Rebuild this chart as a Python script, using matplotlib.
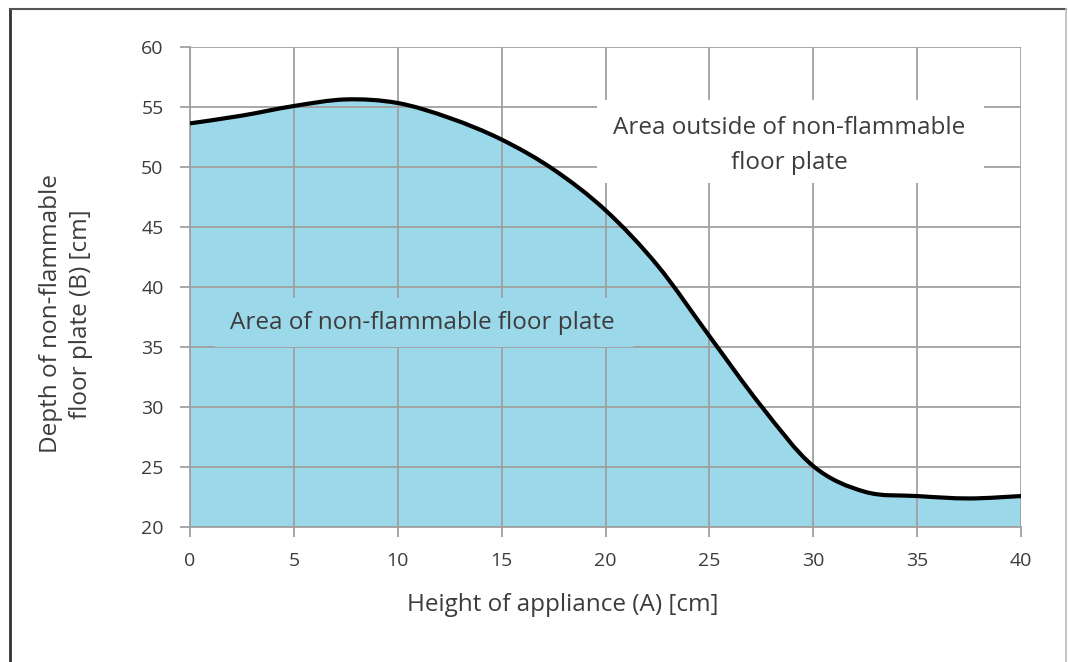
import matplotlib
matplotlib.use("Agg")
import matplotlib.pyplot as plt
from matplotlib.path import Path
from matplotlib.patches import PathPatch, Rectangle
from matplotlib.lines import Line2D
import numpy as np

# Data
height_cm = [0, 2.5, 5, 7.5, 10, 12.5, 15, 17.5, 20, 22.5, 25, 27.5, 30, 32.5, 35, 37.5, 40]
depth_cm = [53.65, 54.3, 55.1, 55.65, 55.35, 54.1, 52.3, 49.8, 46.4, 41.8, 35.9, 30.05, 25.05, 22.9, 22.55, 22.35, 22.55]
x_ticks = [0, 5, 10, 15, 20, 25, 30, 35, 40]
y_ticks = [20, 25, 30, 35, 40, 45, 50, 55, 60]
x_label = "Height of appliance (A) [cm]"
y_label = "Depth of non-flammable\nfloor plate (B) [cm]"
label_inside = "Area of non-flammable floor plate"
label_outside = "Area outside of non-flammable\nfloor plate"

FILL = "#9BD8E9"
GRID = "#A0A0A0"
TXT = "#3C3C3C"
FONT = ["Open Sans", "DejaVu Sans"]
plt.rcParams["font.family"] = FONT


def smooth_vertices(xs, ys):
    """Excel-style smoothed line: cubic Bezier segments through the data points."""
    P = np.column_stack([xs, ys]).astype(float)
    n = len(P)
    verts = [tuple(P[0])]
    codes = [Path.MOVETO]
    for i in range(n - 1):
        p0 = P[i - 1] if i > 0 else P[i]
        p1 = P[i]
        p2 = P[i + 1]
        p3 = P[i + 2] if i + 2 < n else P[i + 1]
        c1 = p1 + (p2 - p0) / 6.0
        c2 = p2 - (p3 - p1) / 6.0
        verts += [tuple(c1), tuple(c2), tuple(p2)]
        codes += [Path.CURVE4] * 3
    return verts, codes


W, H = 1068, 662
fig = plt.figure(figsize=(W / 100, H / 100), dpi=100)
ax = fig.add_axes([190 / W, 1 - 526.6 / H, (1021 - 190) / W, (526.6 - 47.3) / H])

ax.set_xlim(0, 40)
ax.set_ylim(20, 60)

verts, codes = smooth_vertices(height_cm, depth_cm)
# filled area under the curve
fverts = verts + [(height_cm[-1], 20), (height_cm[0], 20), verts[0]]
fcodes = codes + [Path.LINETO, Path.LINETO, Path.CLOSEPOLY]
ax.add_patch(PathPatch(Path(fverts, fcodes), facecolor=FILL, edgecolor="none", zorder=1))

ax.set_xticks(x_ticks)
ax.set_yticks(y_ticks)
ax.grid(True, color=GRID, linewidth=1.3, zorder=2)
ax.set_axisbelow(False)
for s in ax.spines.values():
    s.set_visible(False)
ax.spines["bottom"].set_visible(True)
ax.spines["left"].set_visible(True)
ax.spines["bottom"].set_color(GRID)
ax.spines["left"].set_color(GRID)
ax.spines["bottom"].set_linewidth(1.3)
ax.spines["left"].set_linewidth(1.3)
ax.tick_params(axis="both", direction="out", length=7, width=1.3, color=GRID,
               labelsize=14, labelcolor=TXT)
ax.tick_params(axis="x", pad=11)
ax.tick_params(axis="y", pad=12)

# curve on top
ax.add_patch(PathPatch(Path(verts, codes), facecolor="none", edgecolor="black",
                       linewidth=3.0, zorder=5, capstyle="butt"))

# text boxes that mask the grid
ax.add_patch(Rectangle((19.6, 48.7), 38.2 - 19.6, 55.6 - 48.7, facecolor="white",
                       edgecolor="none", zorder=3))
ax.text(28.83, 51.78, label_outside, ha="center", va="center", fontsize=17.5,
        color=TXT, linespacing=1.62, zorder=4)
ax.add_patch(Rectangle((1.2, 34.95), 21.3 - 1.2, 39.1 - 34.95, facecolor=FILL,
                       edgecolor="none", zorder=3))
ax.text(11.19, 36.95, label_inside, ha="center", va="center", fontsize=17.5,
        color=TXT, zorder=4)

# axis titles
fig.text(562.5 / W, 1 - 605 / H, x_label, ha="center", va="center", fontsize=17.5,
         color=TXT)
fig.text(66 / W, 1 - 314 / H, y_label, ha="center", va="center", rotation=90,
         fontsize=17.5, color=TXT, linespacing=1.37, multialignment="center")

# outer frame (cropped screenshot border)
fig.add_artist(Line2D([10 / W, 10 / W], [0, 1 - 9 / H], transform=fig.transFigure,
                      color="#333333", linewidth=2.0))
fig.add_artist(Line2D([10 / W, 1066 / W], [1 - 9 / H, 1 - 9 / H], transform=fig.transFigure,
                      color="#555555", linewidth=1.5))
fig.add_artist(Line2D([1066 / W, 1066 / W], [0, 1 - 9 / H], transform=fig.transFigure,
                      color="#BBBBBB", linewidth=1.2))

fig.savefig("out.png", dpi=100)
